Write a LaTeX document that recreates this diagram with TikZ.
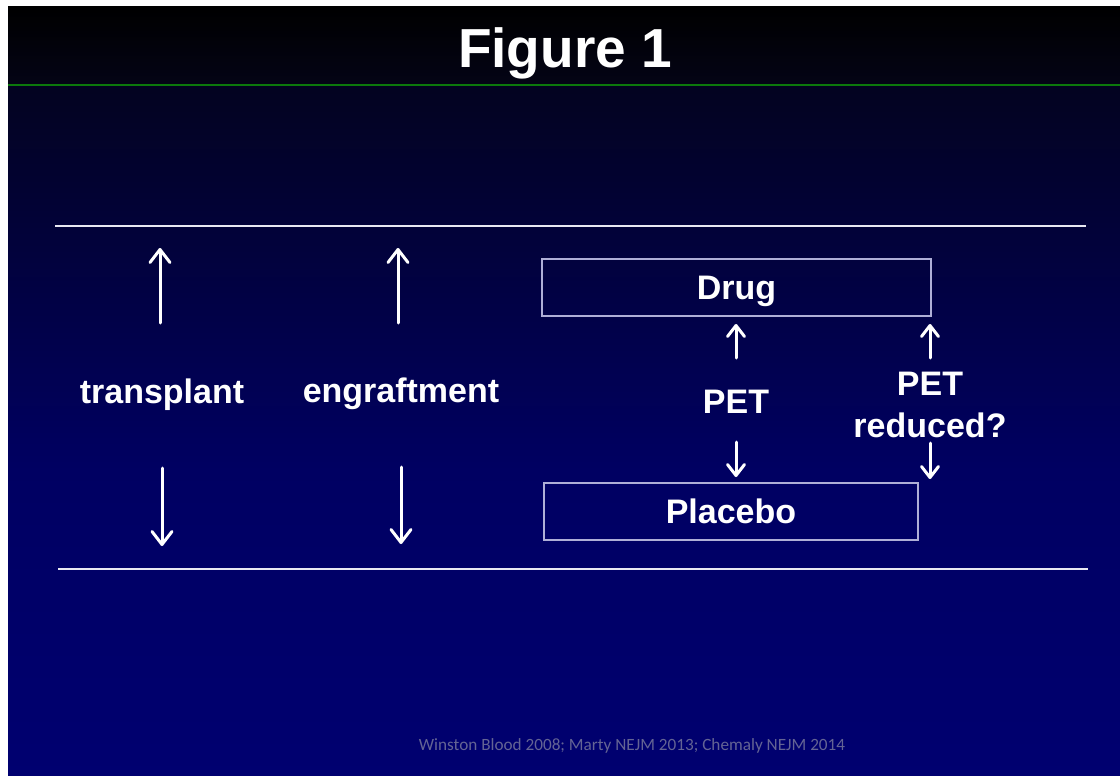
\documentclass[tikz,border=0pt]{standalone}
\usepackage{fontspec}
\setmainfont{Liberation Sans}
\newfontfamily\footfont{Carlito}
\usetikzlibrary{arrows.meta}
\definecolor{navyA}{RGB}{4,4,22}
\definecolor{navyB}{RGB}{3,3,32}
\definecolor{navyC}{RGB}{0,0,98}
\definecolor{navyD}{RGB}{0,0,112}
\definecolor{greenline}{RGB}{12,120,12}
\definecolor{boxline}{RGB}{175,175,215}
\definecolor{footgray}{RGB}{100,100,148}
\definecolor{rulewhite}{RGB}{232,232,242}
\tikzset{
  lbl/.style={text=white, font=\fontsize{34}{42}\selectfont\bfseries, inner sep=0pt, align=center},
  titletxt/.style={text=white, font=\fontsize{55}{60}\selectfont\bfseries, inner sep=0pt},
  boxnode/.style={draw=boxline, line width=1.4pt, text=white, font=\fontsize{34}{41}\selectfont\bfseries, inner sep=0pt, text depth=0pt},
  arr/.style={draw=white, line width=3pt, line cap=round, -{Straight Barb[length=13pt,width=20pt,line cap=round,line join=round]}},
  sarr/.style={draw=white, line width=3pt, line cap=round, -{Straight Barb[length=11pt,width=17pt,line cap=round,line join=round]}},
  rule/.style={draw=rulewhite, line width=2.5pt},
  foot/.style={text=footgray, font=\footfont\fontsize{17.2}{20}\selectfont, inner sep=0pt}
}
\begin{document}
\begin{tikzpicture}[x=1pt,y=-1pt]
\useasboundingbox (0,0) rectangle (1120,776);
\fill[white] (0,0) rectangle (1120,776);
% backgrounds
\shade[top color=black, bottom color=navyA] (8,7) rectangle (1120,85);
\shade[top color=navyB, bottom color=navyC] (8,85) rectangle (1120,470);
\shade[top color=navyC, bottom color=navyD] (8,469.5) rectangle (1120,776);
\draw[greenline, line width=2.5pt] (8,85) -- (1120,85);
% title
\node[titletxt] (title) at (565,53) {Figure 1};
% rules
\coordinate (tl) at (55,226);
\coordinate (tr) at (1086,226);
\coordinate (bl) at (58,569);
\coordinate (br) at (1088,569);
\draw[rule] (tl) -- (tr);
\draw[rule] (bl) -- (br);
% left columns
\node[lbl] (transplant) at (162,395) {transplant};
\node[lbl] (engraft) at (401,394) {engraftment};
\coordinate (t1a) at (160,323); \coordinate (t1b) at (160,248);
\coordinate (t2a) at (162,468); \coordinate (t2b) at (162,546);
\coordinate (e1a) at (398,323); \coordinate (e1b) at (398,248);
\coordinate (e2a) at (401,467); \coordinate (e2b) at (401,544);
\draw[arr] (t1a) -- (t1b);
\draw[arr] (t2a) -- (t2b);
\draw[arr] (e1a) -- (e1b);
\draw[arr] (e2a) -- (e2b);
% boxes
\node[boxnode, minimum width=389pt, minimum height=57pt] (drug) at (736.5,287.5) {Drug};
\node[boxnode, minimum width=374pt, minimum height=57pt] (placebo) at (731,511.5) {Placebo};
% PET middle
\node[lbl] (pet) at (736,402) {PET};
\coordinate (p1a) at (736,358); \coordinate (p1b) at (736,324);
\coordinate (p2a) at (736,442); \coordinate (p2b) at (736,477);
\draw[sarr] (p1a) -- (p1b);
\draw[sarr] (p2a) -- (p2b);
% PET reduced
\node[lbl] (petr) at (930,405) {PET\\reduced?};
\coordinate (r1a) at (930,358); \coordinate (r1b) at (930,324);
\coordinate (r2a) at (930,443); \coordinate (r2b) at (930,479);
\draw[sarr] (r1a) -- (r1b);
\draw[sarr] (r2a) -- (r2b);
% footer
\node[foot] (footer) at (632,746) {Winston Blood 2008; Marty NEJM 2013; Chemaly NEJM 2014};
\end{tikzpicture}
\end{document}
